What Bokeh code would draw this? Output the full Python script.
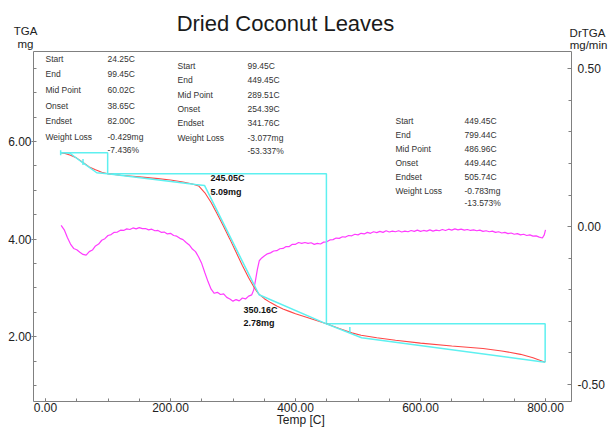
from bokeh.plotting import figure
from bokeh.models import Range1d, LinearAxis, NumeralTickFormatter, Label, SingleIntervalTicker, FixedTicker
from bokeh.core.properties import value
from bokeh.embed import file_html
from bokeh.resources import INLINE

# ---------------- data ----------------
tga_temp = [24.25, 30, 40, 50, 60.02, 70, 80, 90, 99.45, 120, 150, 180, 200, 220, 235, 245.05,
            255, 265, 275, 285, 295, 305, 315, 325, 333, 338, 342, 350.16, 360, 370, 380, 390,
            400, 420, 449.45, 470, 490, 505, 530, 560, 600, 650, 700, 730, 760, 780, 799.44]
tga_mass = [5.77, 5.76, 5.72, 5.66, 5.57, 5.48, 5.42, 5.37, 5.34, 5.31, 5.275, 5.24, 5.21, 5.17, 5.13, 5.09,
            4.95, 4.75, 4.51, 4.26, 4.00, 3.73, 3.46, 3.21, 3.03, 2.93, 2.87, 2.78, 2.70, 2.63, 2.57, 2.52,
            2.47, 2.39, 2.265, 2.17, 2.08, 2.03, 1.98, 1.93, 1.87, 1.81, 1.76, 1.71, 1.64, 1.57, 1.48]

dtg_temp = [25, 30, 35, 40, 45, 50, 55, 60, 65, 70, 75, 80, 85, 90, 95, 100, 105, 110, 115, 120,
            125, 130, 135, 140, 145, 150, 155, 160, 165, 170, 175, 180, 185, 190, 195, 200, 205, 210,
            215, 220, 225, 230, 235, 240, 245, 250, 255, 260, 265, 270, 275, 280, 285, 290, 295, 300,
            305, 310, 315, 320, 325, 330, 333, 336, 339, 342, 346, 350, 355, 360, 365, 370, 375, 380,
            385, 390, 395, 400, 405, 410, 415, 420, 425, 430, 435, 440, 445, 450, 455, 460, 465, 470,
            475, 480, 485, 490, 495, 500, 505, 510, 515, 520, 525, 530, 535, 540, 545, 550, 555, 560,
            565, 570, 575, 580, 585, 590, 595, 600, 605, 610, 615, 620, 625, 630, 635, 640, 645, 650,
            655, 660, 665, 670, 675, 680, 685, 690, 695, 700, 705, 710, 715, 720, 725, 730, 735, 740,
            745, 750, 755, 760, 765, 770, 775, 780, 785, 790, 795, 798, 800]
dtg_rate = [0.004, -0.010, -0.034, -0.055, -0.069, -0.073, -0.081, -0.088, -0.090, -0.079, -0.074,
            -0.061, -0.055, -0.043, -0.038, -0.028, -0.025, -0.018, -0.017, -0.011, -0.012, -0.007,
            -0.009, -0.004, -0.007, -0.003, -0.006, -0.006, -0.010, -0.008, -0.013, -0.012, -0.018,
            -0.017, -0.023, -0.021, -0.028, -0.030, -0.037, -0.041, -0.050, -0.058, -0.071, -0.079,
            -0.096, -0.117, -0.146, -0.174, -0.198, -0.211, -0.208, -0.215, -0.213, -0.224, -0.229,
            -0.236, -0.231, -0.235, -0.226, -0.229, -0.220, -0.216, -0.201, -0.170, -0.135, -0.108,
            -0.099, -0.093, -0.086, -0.083, -0.077, -0.076, -0.070, -0.069, -0.063, -0.063, -0.056,
            -0.056, -0.050, -0.053, -0.050, -0.053, -0.051, -0.056, -0.053, -0.055, -0.049, -0.048,
            -0.042, -0.041, -0.036, -0.037, -0.032, -0.033, -0.028, -0.029, -0.024, -0.026, -0.021,
            -0.023, -0.018, -0.021, -0.016, -0.019, -0.015, -0.018, -0.013, -0.017, -0.014, -0.016,
            -0.013, -0.017, -0.014, -0.016, -0.012, -0.015, -0.011, -0.015, -0.012, -0.014, -0.010,
            -0.014, -0.011, -0.013, -0.009, -0.012, -0.008, -0.011, -0.007, -0.010, -0.008, -0.011,
            -0.009, -0.012, -0.010, -0.013, -0.011, -0.015, -0.013, -0.016, -0.014, -0.018, -0.016,
            -0.020, -0.018, -0.022, -0.020, -0.024, -0.022, -0.026, -0.024, -0.028, -0.026, -0.030,
            -0.029, -0.033, -0.036, -0.026, -0.010]

# step (weight-loss) construction
step_temp = [24.25, 99.45, 99.45, 449.45, 449.45, 799.44, 799.44]
step_mass = [5.77, 5.77, 5.34, 5.34, 2.265, 2.265, 1.48]

# tangent construction (onset / endset)
tan_temp = [24.25, 38.65, 60.02, 82.00, 99.45, 240.0, 254.39, 341.76, 449.45, 505.74, 799.44]
tan_mass = [5.77, 5.765, 5.56, 5.36, 5.34, 5.12, 5.10, 2.86, 2.265, 1.98, 1.48]

mid_temp = [60.02, 486.96]
mid_mass = [5.58, 2.14]

block1_labels = ["Start", "End", "Mid Point", "Onset", "Endset", "Weight Loss"]
block1_values = ["24.25C", "99.45C", "60.02C", "38.65C", "82.00C", "-0.429mg", "-7.436%"]
block2_labels = ["Start", "End", "Mid Point", "Onset", "Endset", "Weight Loss"]
block2_values = ["99.45C", "449.45C", "289.51C", "254.39C", "341.76C", "-3.077mg", "-53.337%"]
block3_labels = ["Start", "End", "Mid Point", "Onset", "Endset", "Weight Loss"]
block3_values = ["449.45C", "799.44C", "486.96C", "449.44C", "505.74C", "-0.783mg", "-13.573%"]

point_labels = [("245.05C", "5.09mg"), ("350.16C", "2.78mg")]

title_text = "Dried Coconut Leaves"
x_title = "Temp  [C]"
y_title = ("TGA", "mg")
y2_title = ("DrTGA", "mg/min")

# ---------------- geometry ----------------
W, H = 608, 428
BL, BR, BT, BB = 33.0, 571.0, 50.7, 400.7          # plot box on screen
XB = (-19.2, 841.6)                                  # temperature span of the box
YB = (0.68, 7.85)                                    # TGA span of the box
DB = (-0.553, 0.556)                                 # DrTGA span of the box

def full_range(lo, hi, s_lo, s_hi, total, flip=False):
    per = (hi - lo) / (s_hi - s_lo)
    if not flip:
        return (lo - s_lo * per, hi + (total - s_hi) * per)
    return (lo - (total - s_hi) * per, hi + s_lo * per)

XR = full_range(XB[0], XB[1], BL, BR, W)
YR = full_range(YB[0], YB[1], BT, BB, H, flip=True)
DR = full_range(DB[0], DB[1], BT, BB, H, flip=True)

def dx(sx):
    return XR[0] + sx / W * (XR[1] - XR[0])

def dy(sy):
    return YR[1] - sy / H * (YR[1] - YR[0])

FONT = "Liberation Sans"
GRAY = "#808080"

p = figure(width=W, height=H, x_range=Range1d(*XR), y_range=Range1d(*YR),
           output_backend="svg", toolbar_location=None, min_border=0)
p.extra_y_ranges = {"dr": Range1d(*DR)}
p.xgrid.visible = False
p.ygrid.visible = False
p.outline_line_color = None
p.background_fill_color = "white"
p.border_fill_color = "white"

def style_axis(ax):
    ax.axis_line_color = GRAY
    ax.major_tick_line_color = GRAY
    ax.minor_tick_line_color = GRAY
    ax.major_label_text_font = FONT
    ax.major_label_text_font_size = "12px"
    ax.major_label_text_color = "#222222"
    ax.formatter = NumeralTickFormatter(format="0.00")

xa = p.xaxis[0]
style_axis(xa)
xa.fixed_location = YB[0]
xa.bounds = XB
xa.ticker = SingleIntervalTicker(interval=200, num_minor_ticks=4)
xa.major_tick_in = 3
xa.major_tick_out = 0
xa.minor_tick_in = 3
xa.minor_tick_out = 0
xa.major_label_standoff = 2

ya = p.yaxis[0]
style_axis(ya)
ya.fixed_location = XB[0]
ya.bounds = YB
ya.ticker = SingleIntervalTicker(interval=2, num_minor_ticks=4)
ya.major_tick_in = 0
ya.major_tick_out = 2
ya.minor_tick_in = 3
ya.minor_tick_out = 0
ya.major_label_standoff = 0

ra = LinearAxis(y_range_name="dr")
style_axis(ra)
ra.fixed_location = XB[1]
ra.bounds = DB
ra.ticker = SingleIntervalTicker(interval=0.5, num_minor_ticks=5)
ra.major_tick_in = 4
ra.major_tick_out = 0
ra.minor_tick_in = 3
ra.minor_tick_out = 0
ra.major_label_standoff = 6
p.add_layout(ra, "right")

ta = LinearAxis(fixed_location=YB[1], bounds=XB, ticker=FixedTicker(ticks=[], minor_ticks=[]),
                axis_line_color=GRAY, major_label_text_alpha=0)
p.add_layout(ta, "above")

# ---------------- curves ----------------
CYAN = "#5ef0f0"
p.line(dtg_temp, dtg_rate, y_range_name="dr", line_color="#ff3cff", line_width=1.2)
p.line(step_temp, step_mass, line_color=CYAN, line_width=1.5)
p.line(tga_temp, tga_mass, line_color="#ff4646", line_width=1.1)
p.line(tan_temp, tan_mass, line_color=CYAN, line_width=1.5)
p.segment(x0=mid_temp, y0=[m + 0.06 for m in mid_mass], x1=mid_temp, y1=[m - 0.06 for m in mid_mass],
          line_color=CYAN, line_width=1.5)
p.segment(x0=[step_temp[0]], y0=[step_mass[0] + 0.05], x1=[step_temp[0]], y1=[step_mass[0] - 0.05],
          line_color=CYAN, line_width=1.5)

# ---------------- annotation texts ----------------
def block(labels, values, sx_lab, sx_val, sy0, step, pct_gap):
    xs, ys, ts = [], [], []
    for i, t in enumerate(labels):
        xs.append(dx(sx_lab)); ys.append(dy(sy0 + i * step)); ts.append(t)
    for i, t in enumerate(values[:-1]):
        xs.append(dx(sx_val)); ys.append(dy(sy0 + i * step)); ts.append(t)
    xs.append(dx(sx_val)); ys.append(dy(sy0 + (len(labels) - 1) * step + pct_gap)); ts.append(values[-1])
    p.text(x=xs, y=ys, text=ts, text_font=value(FONT), text_font_size="8.5px",
           text_baseline="middle", text_align="left", text_color="#333333")

block(block1_labels, block1_values, 45, 107, 58.3, 15.6, 13.5)
block(block2_labels, block2_values, 177, 247, 65.5, 14.3, 13.0)
block(block3_labels, block3_values, 395, 464, 120, 14.0, 12.0)

for (t1, t2), (sx, sy) in zip(point_labels, [(210, 177.7), (243, 309)]):
    p.text(x=[dx(sx), dx(sx)], y=[dy(sy), dy(sy + 13.5)], text=[t1, t2], text_font=value(FONT),
           text_font_size="9px", text_font_style="bold", text_baseline="middle",
           text_align="left", text_color="#111111")

def lab(txt, sx, sy, size="11.5px", align="center", color="#222222"):
    p.add_layout(Label(x=dx(sx), y=dy(sy), text=txt, text_font=FONT, text_font_size=size,
                       text_align=align, text_baseline="middle", text_color=color))

lab(title_text, 285, 23, size="22px", color="#1a1a1a")
lab(y_title[0], 25, 30)
lab(y_title[1], 25, 43.5)
lab(y2_title[0], 587, 32)
lab(y2_title[1], 588, 44)
lab(x_title, 302, 419, size="12px")

open("out.html", "w").write(file_html(p, INLINE))
